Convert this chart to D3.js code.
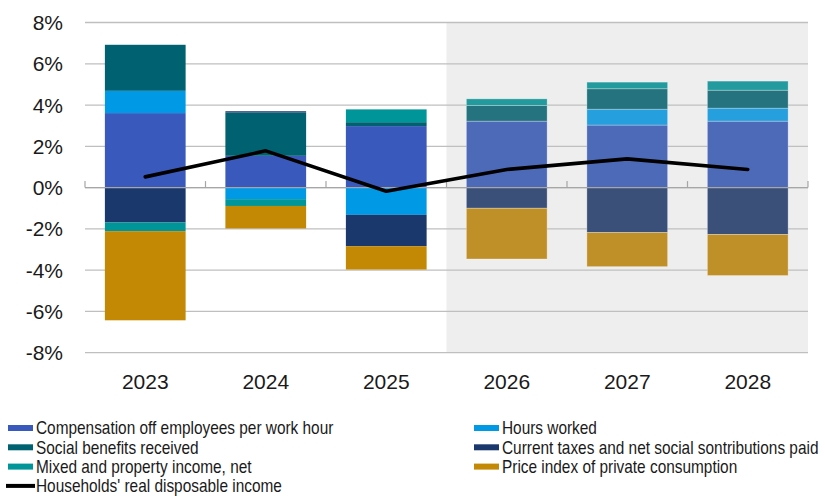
<!DOCTYPE html>
<html>
<head>
<meta charset="utf-8">
<script src="https://cdn.jsdelivr.net/npm/d3@7"></script>
<style>
  html, body { margin: 0; padding: 0; background: #ffffff; }
  svg { display: block; }
  .tick-label { font-family: "Liberation Sans", Arial, sans-serif; fill: #1a1a1a; }
  .legend-label { font-family: "Liberation Sans", Arial, sans-serif; fill: #1a1a1a; }
</style>
</head>
<body>
<svg id="chart" width="825" height="496"></svg>
<script>
// Contributions to households' real disposable income growth, percentage points
const years = ["2023", "2024", "2025", "2026", "2027", "2028"];
const forecastYears = ["2026", "2027", "2028"];

const compensation   = [3.61, 1.54, 2.98, 3.22, 3.03, 3.22];
const hoursWorked    = [1.08, -0.56, -1.32, 0.00, 0.77, 0.63];
const socialBenefits = [2.23, 2.10, 0.19, 0.76, 0.99, 0.87];
const taxesPaid      = [-1.69, 0.06, -1.52, -1.00, -2.18, -2.27];
const mixedIncome    = [-0.42, -0.33, 0.62, 0.32, 0.32, 0.44];
const priceIndex     = [-4.32, -1.09, -1.13, -2.46, -1.65, -1.99];
const realIncome     = [0.52, 1.78, -0.18, 0.88, 1.39, 0.88];

const yTicks = [-8, -6, -4, -2, 0, 2, 4, 6, 8];

const seriesNames = [
  "Compensation off employees per work hour",
  "Hours worked",
  "Social benefits received",
  "Current taxes and net social sontributions paid",
  "Mixed and property income, net",
  "Price index of private consumption"
];
const lineName = "Households' real disposable income";

const seriesValues = [compensation, hoursWorked, socialBenefits, taxesPaid, mixedIncome, priceIndex];
const colors         = ["#3A59BD", "#0099E5", "#006170", "#1B386C", "#009599", "#C48904"];
const forecastColors = ["#4D6AB8", "#259FDD", "#24737F", "#3A5078", "#229A9E", "#C09028"];

const svg = d3.select("#chart");

const plot = { left: 85, right: 808, top: 22.5, bottom: 352.7 };

const x = d3.scaleBand()
  .domain(years)
  .range([plot.left, plot.right])
  .paddingInner(0.33)
  .paddingOuter(0.165);

const y = d3.scaleLinear()
  .domain([-8, 8])
  .range([plot.bottom, plot.top]);

// Shaded forecast period
const firstForecast = x(forecastYears[0]) - x.step() * x.paddingInner() / 2;
svg.append("rect")
  .attr("x", firstForecast)
  .attr("y", y(8))
  .attr("width", plot.right - firstForecast)
  .attr("height", y(-8) - y(8))
  .attr("fill", "#EEEEEE");

// Horizontal gridlines
svg.append("g")
  .selectAll("line")
  .data(yTicks)
  .join("line")
  .attr("x1", plot.left)
  .attr("x2", plot.right)
  .attr("y1", d => y(d))
  .attr("y2", d => y(d))
  .attr("stroke", "#BFBFBF")
  .attr("stroke-width", 1.3);

// Y axis labels
svg.append("g")
  .selectAll("text")
  .data(yTicks)
  .join("text")
  .attr("class", "tick-label")
  .attr("x", 63)
  .attr("y", d => y(d))
  .attr("dy", "0.36em")
  .attr("text-anchor", "end")
  .attr("font-size", 21)
  .text(d => d + "%");

// Stacked bars (positive and negative parts stacked separately)
const table = years.map((yr, i) => {
  const row = { year: yr };
  seriesNames.forEach((name, j) => { row[name] = seriesValues[j][i]; });
  return row;
});

const stack = d3.stack()
  .keys(seriesNames)
  .order(d3.stackOrderNone)
  .offset(d3.stackOffsetDiverging);

const stacked = stack(table);

const barGroup = svg.append("g");
stacked.forEach((layer, j) => {
  barGroup.selectAll(null)
    .data(layer)
    .join("rect")
    .attr("x", d => x(d.data.year))
    .attr("width", x.bandwidth())
    .attr("y", d => y(Math.max(d[0], d[1])))
    .attr("height", d => Math.abs(y(d[0]) - y(d[1])))
    .attr("fill", d => forecastYears.includes(d.data.year) ? forecastColors[j] : colors[j])
    .attr("stroke", d => forecastYears.includes(d.data.year) ? "rgba(255,255,255,0.35)" : "none")
    .attr("stroke-width", 0.8);
});

// Zero axis with category separators
svg.append("line")
  .attr("x1", plot.left)
  .attr("x2", plot.right)
  .attr("y1", y(0))
  .attr("y2", y(0))
  .attr("stroke", "#A6A6A6")
  .attr("stroke-width", 1.3);

const boundaries = d3.range(years.length + 1).map(i => plot.left + i * x.step());
svg.append("g")
  .selectAll("line")
  .data(boundaries)
  .join("line")
  .attr("x1", d => d)
  .attr("x2", d => d)
  .attr("y1", y(0))
  .attr("y2", y(0) - 6.5)
  .attr("stroke", "#A6A6A6")
  .attr("stroke-width", 1.2);

// X axis labels
svg.append("g")
  .selectAll("text")
  .data(years)
  .join("text")
  .attr("class", "tick-label")
  .attr("x", d => x(d) + x.bandwidth() / 2)
  .attr("y", 381)
  .attr("dy", "0.36em")
  .attr("text-anchor", "middle")
  .attr("font-size", 21)
  .text(d => d);

// Real disposable income line
const line = d3.line()
  .x((d, i) => x(years[i]) + x.bandwidth() / 2)
  .y(d => y(d));

svg.append("path")
  .datum(realIncome)
  .attr("d", line)
  .attr("fill", "none")
  .attr("stroke", "#000000")
  .attr("stroke-width", 3.6)
  .attr("stroke-linejoin", "round")
  .attr("stroke-linecap", "round");

// Legend (horizontally condensed lettering)
const legendItems = [
  { name: seriesNames[0], color: colors[0], col: 0, row: 0 },
  { name: seriesNames[1], color: colors[1], col: 1, row: 0 },
  { name: seriesNames[2], color: colors[2], col: 0, row: 1 },
  { name: seriesNames[3], color: colors[3], col: 1, row: 1 },
  { name: seriesNames[4], color: colors[4], col: 0, row: 2 },
  { name: seriesNames[5], color: colors[5], col: 1, row: 2 }
];
const colX = [8, 474];
const rowY = [428, 447.3, 466.6, 485.9];
const condense = 0.88;

const legend = svg.append("g");

function legendText(gx, gy, label) {
  legend.append("g")
    .attr("transform", `translate(${gx + 28},${gy}) scale(${condense},1)`)
    .append("text")
    .attr("class", "legend-label")
    .attr("x", 0)
    .attr("y", 0)
    .attr("dy", "0.36em")
    .attr("font-size", 17.5)
    .text(label);
}

legendItems.forEach(item => {
  const gx = colX[item.col];
  const gy = rowY[item.row];
  legend.append("rect")
    .attr("x", gx)
    .attr("y", gy - 3)
    .attr("width", 25)
    .attr("height", 6)
    .attr("fill", item.color);
  legendText(gx, gy, item.name);
});
legend.append("line")
  .attr("x1", colX[0] - 2)
  .attr("x2", colX[0] + 27)
  .attr("y1", rowY[3])
  .attr("y2", rowY[3])
  .attr("stroke", "#000000")
  .attr("stroke-width", 4);
legendText(colX[0], rowY[3], lineName);
</script>
</body>
</html>
